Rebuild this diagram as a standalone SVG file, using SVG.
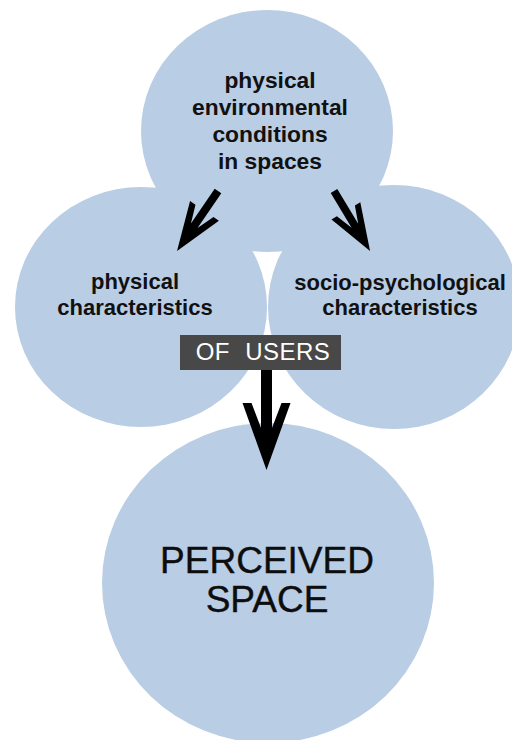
<svg xmlns="http://www.w3.org/2000/svg" xmlns:xlink="http://www.w3.org/1999/xlink" width="512" height="740" viewBox="0 0 512 740">
  <style>
    .bubble { fill: #B9CDE5; stroke: none; }
    .lbl { font-family: "Liberation Sans", Arial, sans-serif; font-weight: bold; font-size: 22px; fill: #111111; text-anchor: middle; }
    .lbl-top { font-size: 22.8px; }
    .big { font-family: "Liberation Sans", Arial, sans-serif; font-size: 37px; fill: #0d0d0d; stroke: #0d0d0d; stroke-width: 0.4px; text-anchor: middle; }
    .tag { font-family: "Liberation Sans", Arial, sans-serif; font-size: 24px; fill: #ffffff; text-anchor: middle; letter-spacing: 0.5px; word-spacing: 8px; }
    .arrow { fill: #000000; }
  </style>
  <defs>
    <path id="featherArrow" d="M -5.5 0 L 5.5 0 L 5.5 58 L 15 33 L 24 33 L 0 100 L -24 33 L -15 33 L -5.5 58 Z"/>
  </defs>
  <rect x="0" y="0" width="512" height="740" fill="#ffffff"/>

  <g id="node-physical-environmental">
    <ellipse class="bubble" cx="267" cy="131" rx="126" ry="121"/>
    <text class="lbl lbl-top" x="270" y="88">physical</text>
    <text class="lbl lbl-top" x="270" y="115">environmental</text>
    <text class="lbl lbl-top" x="270" y="142">conditions</text>
    <text class="lbl lbl-top" x="270" y="169">in spaces</text>
  </g>

  <g id="node-physical-characteristics">
    <ellipse class="bubble" cx="141" cy="307" rx="126" ry="120"/>
    <text class="lbl" x="135" y="289">physical</text>
    <text class="lbl" x="135" y="315">characteristics</text>
  </g>

  <g id="node-socio-psychological">
    <ellipse class="bubble" cx="394" cy="307" rx="126" ry="122"/>
    <text class="lbl" x="400" y="290">socio-psychological</text>
    <text class="lbl" x="400" y="315">characteristics</text>
  </g>

  <g id="node-perceived-space">
    <ellipse class="bubble" cx="268" cy="583" rx="166" ry="160"/>
    <text class="big" x="267" y="573">PERCEIVED</text>
    <text class="big" x="267" y="612">SPACE</text>
  </g>

  <g id="connectors">
    <use xlink:href="#featherArrow" href="#featherArrow" class="arrow" transform="translate(218,191) rotate(34.3) scale(0.727)"/>
    <use xlink:href="#featherArrow" href="#featherArrow" class="arrow" transform="translate(334,191) rotate(-31) scale(0.70)"/>
    <use xlink:href="#featherArrow" href="#featherArrow" class="arrow" transform="translate(266.5,370)"/>
  </g>

  <g id="label-of-users">
    <rect x="180" y="335" width="161" height="35" fill="#484848"/>
    <text class="tag" x="263" y="360">OF USERS</text>
  </g>
</svg>
